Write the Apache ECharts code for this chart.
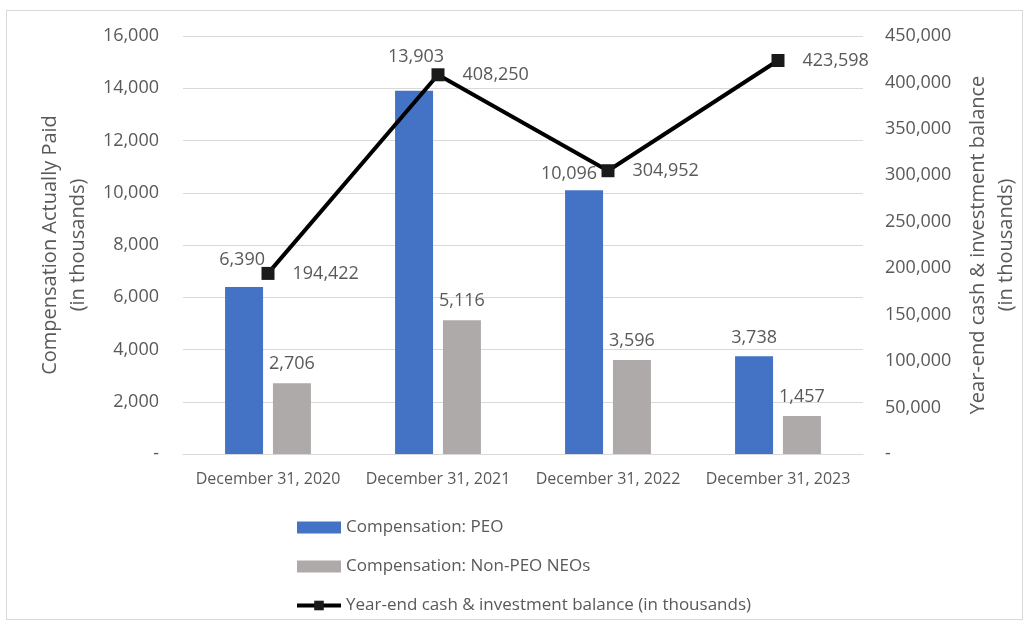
<!DOCTYPE html>
<html><head><meta charset="utf-8">
<script src="https://cdn.jsdelivr.net/npm/echarts@6/dist/echarts.min.js"></script>
<style>html,body{margin:0;padding:0;background:#fff}#c{width:1035px;height:626px}
#frame{position:absolute;left:6px;top:10px;width:1017px;height:610px;border:1px solid #d9d9d9;box-sizing:border-box;pointer-events:none}</style>
</head><body><div id="c"></div><div id="frame"></div>
<script>
const categories = ['December 31, 2020','December 31, 2021','December 31, 2022','December 31, 2023'];
const peoValues = [6390, 13903, 10096, 3738];
const neoValues = [2706, 5116, 3596, 1457];
const cashValues = [194422, 408250, 304952, 423598];
const leftTicks = [0, 2000, 4000, 6000, 8000, 10000, 12000, 14000, 16000];
const rightTicks = [0, 50000, 100000, 150000, 200000, 250000, 300000, 350000, 400000, 450000];

const FONT = 'Open Sans';
const TXT = '#595959';
const fmt = v => v === 0 ? '-' : v.toLocaleString('en-US');
const peoDist = [18, 25, 7, 9];
const peoOffset = [[-2,0],[2,0],[-15,0],[0,0]];

const chart = echarts.init(document.getElementById('c'));
chart.setOption({
  animation: false,
  textStyle: {fontFamily: FONT},
  grid: {left: 183, right: 172, top: 36, bottom: 172, outerBoundsMode: 'none', containLabel: false},
  legend: {
    orient: 'vertical', left: 290, top: 514, itemGap: 22, itemWidth: 44, itemHeight: 12,
    textStyle: {fontFamily: FONT, fontSize: 17, color: TXT},
    lineStyle: {width: 4},
    data: [
      {name: 'Compensation: PEO', icon: 'rect'},
      {name: 'Compensation: Non-PEO NEOs', icon: 'rect'},
      {name: 'Year-end cash & investment balance (in thousands)'}
    ]
  },
  xAxis: {
    type: 'category', data: categories,
    axisLine: {lineStyle: {color: '#d9d9d9'}}, axisTick: {show: false},
    axisLabel: {color: TXT, fontSize: 16, margin: 17, interval: 0, fontFamily: FONT}
  },
  yAxis: [{
    type: 'value', min: leftTicks[0], max: leftTicks[leftTicks.length-1], interval: leftTicks[1]-leftTicks[0],
    name: 'Compensation Actually Paid\n(in thousands)', nameLocation: 'middle', nameGap: 90, nameRotate: 90,
    nameTextStyle: {color: TXT, fontSize: 20, lineHeight: 28, fontFamily: FONT},
    axisLabel: {color: TXT, fontSize: 18, margin: 24, formatter: fmt, fontFamily: FONT},
    splitLine: {lineStyle: {color: '#d9d9d9'}}, axisLine: {show: false}, axisTick: {show: false}
  }, {
    type: 'value', min: rightTicks[0], max: rightTicks[rightTicks.length-1], interval: rightTicks[1]-rightTicks[0],
    name: 'Year-end cash & investment balance\n(in thousands)', nameLocation: 'middle', nameGap: 101, nameRotate: 90,
    nameTextStyle: {color: TXT, fontSize: 20, lineHeight: 28, fontFamily: FONT},
    axisLabel: {color: TXT, fontSize: 18, margin: 22, formatter: fmt, fontFamily: FONT},
    splitLine: {show: false}, axisLine: {show: false}, axisTick: {show: false}
  }],
  series: [{
    name: 'Compensation: PEO', type: 'bar', barWidth: 38, barGap: '26%', yAxisIndex: 0,
    itemStyle: {color: '#4472c4'},
    data: peoValues.map((v, i) => ({value: v, label: {distance: peoDist[i], offset: peoOffset[i]}})),
    label: {show: true, position: 'top', color: TXT, fontSize: 18, formatter: p => fmt(p.value)}
  }, {
    name: 'Compensation: Non-PEO NEOs', type: 'bar', barWidth: 38, yAxisIndex: 0,
    itemStyle: {color: '#aeaaaa'},
    data: neoValues,
    label: {show: true, position: 'top', distance: 10, color: TXT, fontSize: 18, formatter: p => fmt(p.value)}
  }, {
    name: 'Year-end cash & investment balance (in thousands)', type: 'line', yAxisIndex: 1,
    data: cashValues, symbol: 'rect', symbolSize: 13,
    lineStyle: {color: '#000', width: 4}, itemStyle: {color: '#1a1a1a'},
    label: {show: true, position: 'right', distance: 18, color: TXT, fontSize: 18, formatter: p => fmt(p.value)},
    z: 5
  }]
});
</script></body></html>
